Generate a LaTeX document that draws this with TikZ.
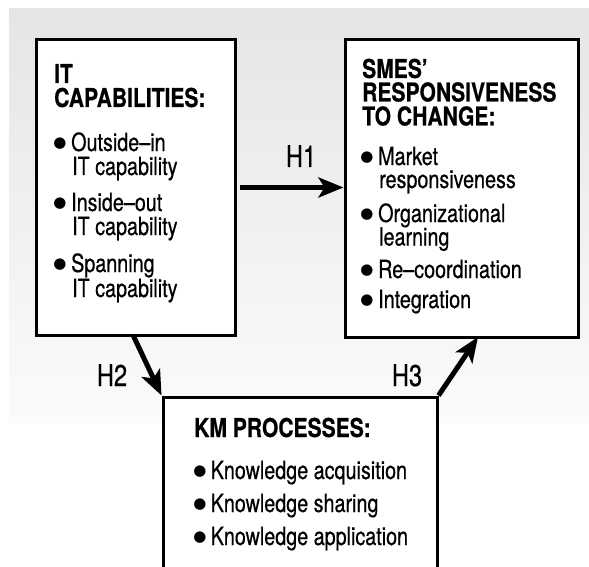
\documentclass[tikz,border=0pt]{standalone}
\usepackage{fontspec}
\setmainfont{TeX Gyre Heros}[FakeStretch=0.79, FakeBold=0.5, BoldFeatures={FakeStretch=0.81}]
\newfontfamily\bulfont{DejaVu Sans}
\usetikzlibrary{arrows.meta}
\definecolor{bgtop}{RGB}{229,229,229}
\definecolor{bgbot}{RGB}{251,251,251}
\tikzset{
  box/.style={draw=black, line width=3pt, fill=white, inner sep=0pt},
  arr/.style={line width=5pt, -{Stealth[length=25pt,width=20pt,inset=6pt]}},
  head/.style={anchor=base west, inner sep=0pt, font=\bfseries\fontsize{26}{26}\selectfont},
  txt/.style={anchor=base west, inner sep=0pt, font=\fontsize{25}{25}\selectfont},
  bul/.style={anchor=base, inner sep=0pt, font=\bulfont\fontsize{15}{15}\selectfont},
  hlab/.style={anchor=base, inner sep=0pt, font=\fontsize{30}{30}\selectfont}
}
\begin{document}
\begin{tikzpicture}[x=1pt,y=-1pt]
\useasboundingbox (0,0) rectangle (589,567);
\clip (0,0) rectangle (589,567);
\shade[top color=bgtop, bottom color=bgbot] (9,9) rectangle (589,422);
% boxes
\node[box, minimum width=199pt, minimum height=295pt] (itbox) at (135.5,187.5) {};
\node[box, minimum width=233pt, minimum height=297pt] (smebox) at (461.5,188.5) {};
\node[box, minimum width=274pt, minimum height=223pt] (kmbox) at (300,508.5) {};
% IT capabilities text
\node[head] (it1) at (54,83) {IT};
\node[head] (it2) at (54,107) {CAPABILITIES:};
\node[bul] (itb1) at (60,147) {●};
\node[txt] (it3) at (71,151) {Outside–in};
\node[txt] (it4) at (72,175) {IT capability};
\node[bul] (itb2) at (60,207) {●};
\node[txt] (it5) at (71,211) {Inside–out};
\node[txt] (it6) at (72,235) {IT capability};
\node[bul] (itb3) at (60,268) {●};
\node[txt] (it7) at (71,272) {Spanning};
\node[txt] (it8) at (72,297) {IT capability};
% SMEs text
\node[head] (sm1) at (362,78) {SMES’};
\node[head] (sm2) at (362,101.5) {RESPONSIVENESS};
\node[head] (sm3) at (362,125.5) {TO CHANGE:};
\node[bul] (smb1) at (367,161) {●};
\node[txt] (sm4) at (378,165) {Market};
\node[txt] (sm5) at (379,188) {responsiveness};
\node[bul] (smb2) at (367,218) {●};
\node[txt] (sm6) at (378,222) {Organizational};
\node[txt] (sm7) at (379,245.5) {learning};
\node[bul] (smb3) at (367,274) {●};
\node[txt] (sm8) at (378,278) {Re–coordination};
\node[bul] (smb4) at (367,304) {●};
\node[txt] (sm9) at (378,308) {Integration};
% KM text
\node[head] (km1) at (194,437) {KM PROCESSES:};
\node[bul] (kmb1) at (200,475) {●};
\node[txt] (km2) at (210.5,479) {Knowledge acquisition};
\node[bul] (kmb2) at (200,508) {●};
\node[txt] (km3) at (210.5,512) {Knowledge sharing};
\node[bul] (kmb3) at (200,541) {●};
\node[txt] (km4) at (210.5,545) {Knowledge application};
% connectors
\coordinate (h1s) at ([xshift=3pt]itbox.east);
\coordinate (h2s) at (133,335);
\coordinate (h3e) at (478,337);
\draw[arr] (h1s) -- (smebox.west |- h1s);
\draw[arr] (h2s) -- (kmbox.north west);
\draw[arr] (kmbox.north east) -- (h3e);
% labels
\node[hlab] (lh1) at (301,167) {H1};
\node[hlab] (lh2) at (112,386) {H2};
\node[hlab] (lh3) at (407,386) {H3};
\end{tikzpicture}
\end{document}
